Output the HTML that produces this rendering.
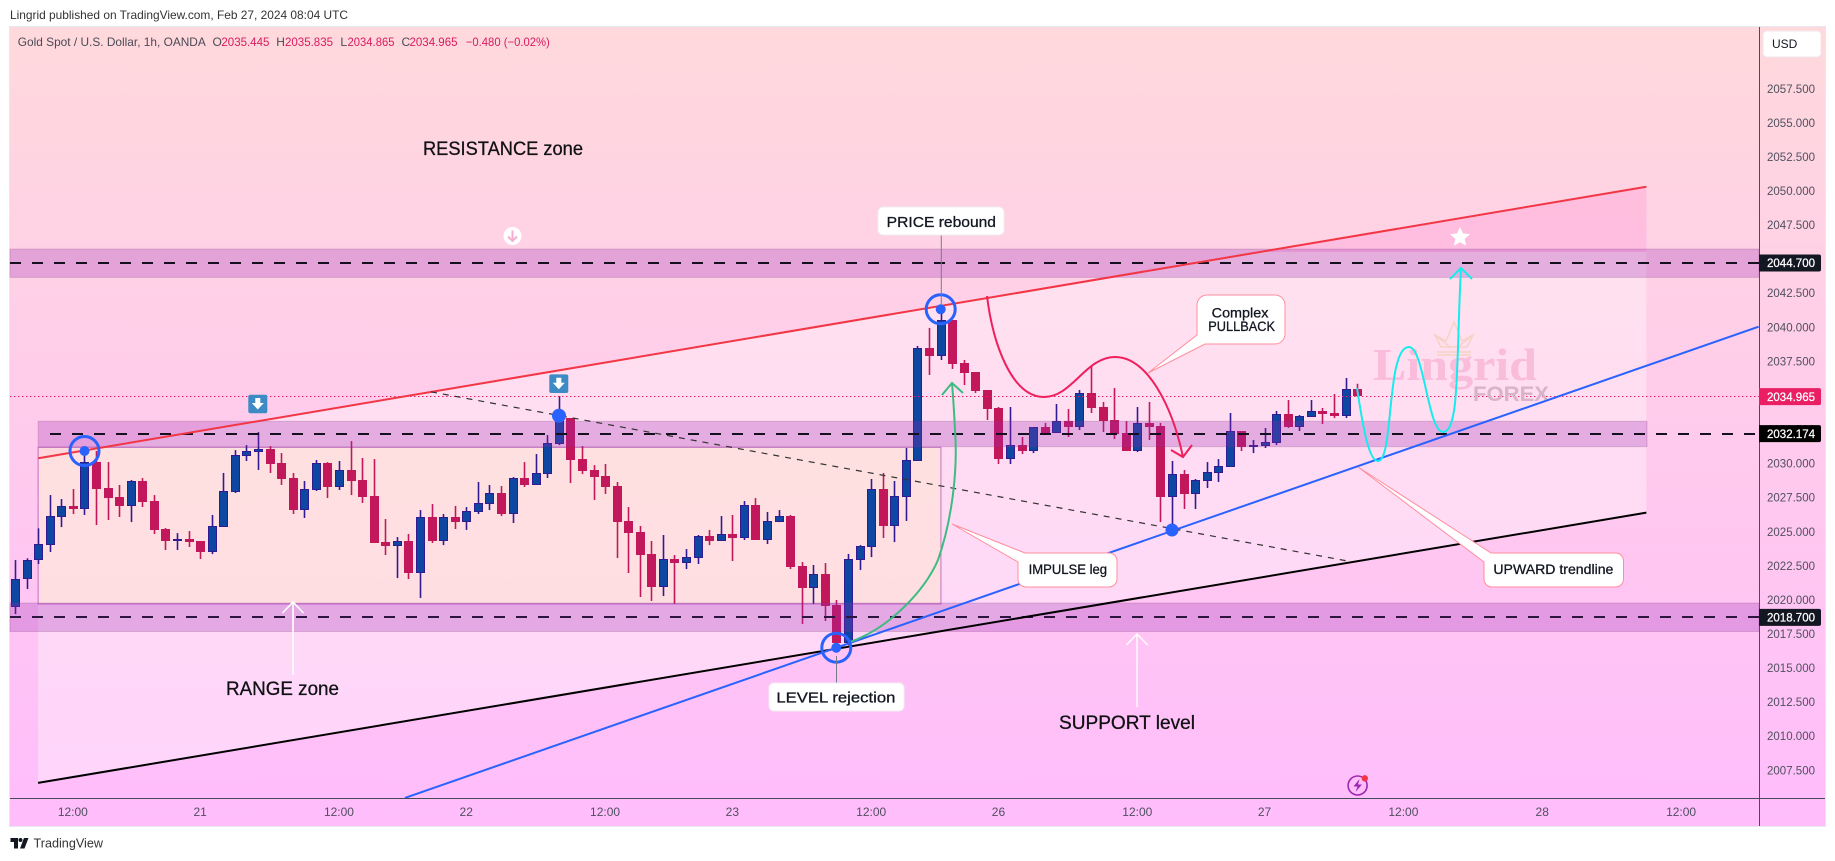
<!DOCTYPE html>
<html lang="en">
<head>
<meta charset="utf-8">
<title>Gold Spot / U.S. Dollar chart</title>
<style>
html,body{margin:0;padding:0;background:#fff;width:1835px;height:861px;overflow:hidden}
svg{display:block}
text{font-family:"Liberation Sans",sans-serif}
.heavy{stroke:#131722;stroke-width:.3px}
</style>
</head>
<body>
<svg id="chart" xmlns="http://www.w3.org/2000/svg" width="1835" height="861" viewBox="0 0 1835 861">
<defs>
<linearGradient id="paneGrad" x1="0" y1="0" x2="0" y2="1">
<stop offset="0" stop-color="#ffd9dc"/>
<stop offset="1" stop-color="#ffbdfc"/>
</linearGradient>
<clipPath id="aboveClip"><rect x="0" y="0" width="1835" height="252"/></clipPath>
<clipPath id="belowClip"><rect x="0" y="252" width="1835" height="609"/></clipPath>
<clipPath id="plotClip"><rect x="10" y="27" width="1749" height="771"/></clipPath>
</defs>

<text x="10" y="19" font-size="12" fill="#333" textLength="338" lengthAdjust="spacingAndGlyphs">Lingrid published on TradingView.com, Feb 27, 2024 08:04 UTC</text>

<rect x="9.5" y="26.5" width="1816" height="800" fill="url(#paneGrad)" stroke="#e6e8ef" stroke-width="1"/>

<g id="channelLayer" clip-path="url(#plotClip)"></g>
<g id="rangeLayer"></g>
<g id="candleLayer" clip-path="url(#plotClip)"></g>
<g id="bandLayer"></g>
<g id="levelLayer"></g>
<g id="priceLineLayer"></g>

<g>
<text x="1373" y="380" font-size="46" font-weight="700" fill="#fabcdb" style='font-family:"Liberation Serif",serif' textLength="164" lengthAdjust="spacingAndGlyphs">Lingrid</text>
<text x="1473" y="401" font-size="21" font-weight="700" fill="#d9b3c9" textLength="76" lengthAdjust="spacingAndGlyphs">FOREX</text>
<path d="M1435 335 L1441 347 H1467 L1473 335 L1462 341 L1454 322 L1446 341 Z M1435 335 L1450 347 M1473 335 L1458 347 M1437 352 H1471 M1437 355 H1471" fill="none" stroke="#f5d2c4" stroke-width="1.4"/>
</g>

<g id="trendLayer" clip-path="url(#plotClip)"></g>

<g fill="none" stroke="#fff" stroke-width="1.6">
<path d="M293 602 V675"/>
<path d="M282.5 613 L293 602 L303.5 613"/>
</g>
<g fill="none" stroke="#fff" stroke-width="1.4">
<path d="M1137 634 V707"/>
<path d="M1126.5 645 L1137 634 L1147.5 645"/>
</g>

<path d="M850 642 C890 628 925 590 938 560 C952 520 958 470 955 430 C954 410 953 395 952 383 M942 395 L952 383 L963 393" fill="none" stroke="#3dbb80" stroke-width="2"/>
<path d="M987 296 C993 345 1012 396 1043 397 C1072 398 1085 357 1115 357 C1147 357 1172 405 1183 457 M1171 450 L1183 457 L1192 445" fill="none" stroke="#ef1f5e" stroke-width="2"/>
<path d="M1357 388 C1362 420 1368 461 1378 461 C1394 461 1386 347 1409 347 C1424 347 1428 432 1443 432 C1460 432 1456 360 1461 268 M1450 279 L1461 268 L1472 279" fill="none" stroke="#16ecec" stroke-width="2"/>

<g>
<circle cx="84.5" cy="451" r="14.5" fill="none" stroke="#2962ff" stroke-width="3"/>
<circle cx="84.5" cy="451" r="5" fill="#2962ff"/>
</g>
<circle cx="559" cy="415.7" r="7" fill="#2962ff"/>
<g>
<circle cx="940.7" cy="309.3" r="14.5" fill="none" stroke="#2962ff" stroke-width="3"/>
<circle cx="940.7" cy="309.3" r="5" fill="#2962ff"/>
</g>
<g>
<circle cx="836.3" cy="647.7" r="14.5" fill="none" stroke="#2962ff" stroke-width="3"/>
<circle cx="836.3" cy="647.7" r="5" fill="#2962ff"/>
</g>
<circle cx="1172" cy="530" r="6.5" fill="#2962ff"/>

<line x1="941.3" y1="235" x2="941.3" y2="305" stroke="#787b86" stroke-width="1"/>
<g>
<rect x="878" y="207" width="126" height="28" rx="5" fill="#fff" stroke="#eee" stroke-width="1"/>
<text class="heavy" x="886.7" y="227" font-size="15" fill="#131722" textLength="109.3" lengthAdjust="spacingAndGlyphs">PRICE rebound</text>
</g>
<line x1="836.5" y1="656" x2="836.5" y2="683" stroke="#787b86" stroke-width="1"/>
<g>
<rect x="769" y="683" width="135" height="28" rx="5" fill="#fff" stroke="#f3eef3" stroke-width="1"/>
<text class="heavy" x="776.4" y="702.5" font-size="15" fill="#131722" textLength="119" lengthAdjust="spacingAndGlyphs">LEVEL rejection</text>
</g>
<g>
<path d="M1207 295 H1275 A10 10 0 0 1 1285 305 V334 A10 10 0 0 1 1275 344 H1205 L1148 373 L1197 335 V305 A10 10 0 0 1 1207 295 Z" fill="#fff" stroke="#ff8d9e" stroke-width="1"/>
<text class="heavy" x="1211.7" y="317.5" font-size="14" fill="#131722" textLength="56.7" lengthAdjust="spacingAndGlyphs">Complex</text>
<text class="heavy" x="1208.3" y="331" font-size="14" fill="#131722" textLength="66.7" lengthAdjust="spacingAndGlyphs">PULLBACK</text>
</g>
<g>
<path d="M1025 553 H1109 A8 8 0 0 1 1117 561 V579 A8 8 0 0 1 1109 587 H1026 A8 8 0 0 1 1018 579 V562 L952 524 Z" fill="#fff" stroke="#ff8d9e" stroke-width="1"/>
<text class="heavy" x="1028.6" y="574" font-size="14" fill="#131722" textLength="78.5" lengthAdjust="spacingAndGlyphs">IMPULSE leg</text>
</g>
<g>
<path d="M1491 553 H1615.5 A8 8 0 0 1 1623.5 561 V579 A8 8 0 0 1 1615.5 587 H1492 A8 8 0 0 1 1484 579 V562 L1358 467 Z" fill="#fff" stroke="#ff8d9e" stroke-width="1"/>
<text class="heavy" x="1493.4" y="574" font-size="14" fill="#131722" textLength="120" lengthAdjust="spacingAndGlyphs">UPWARD trendline</text>
</g>

<text class="heavy" x="423" y="155" font-size="19" fill="#111" textLength="160" lengthAdjust="spacingAndGlyphs">RESISTANCE zone</text>
<text class="heavy" x="226" y="695" font-size="19" fill="#111" textLength="113" lengthAdjust="spacingAndGlyphs">RANGE zone</text>
<text class="heavy" x="1059" y="729" font-size="19" fill="#111" textLength="136" lengthAdjust="spacingAndGlyphs">SUPPORT level</text>

<g>
<rect x="248.3" y="394.7" width="19" height="18.6" rx="2" fill="#3d8ac4"/>
<path d="M255.3 398 h5 v5 h3.5 l-6 6.5 l-6 -6.5 h3.5 z" fill="#fff"/>
</g>
<g>
<rect x="549.3" y="374.4" width="19" height="18.6" rx="2" fill="#3d8ac4"/>
<path d="M556.3 377.7 h5 v5 h3.5 l-6 6.5 l-6 -6.5 h3.5 z" fill="#fff"/>
</g>
<g>
<circle cx="512.5" cy="236" r="9" fill="#fff"/>
<path d="M512.5 230.5 V241 M508 236.5 L512.5 241 L517 236.5" fill="none" stroke="#f3aed0" stroke-width="2"/>
</g>
<path d="M1460 227 L1462.9 233.4 L1470 234.2 L1464.7 238.9 L1466.2 245.8 L1460 242.3 L1453.8 245.8 L1455.3 238.9 L1450 234.2 L1457.1 233.4 Z" fill="#fff"/>
<g>
<circle cx="1357.6" cy="785.5" r="9.5" fill="none" stroke="#9c27b0" stroke-width="1.6"/>
<path d="M1359.5 779 L1353.5 786.5 H1357.5 L1355.5 792 L1362 784.5 H1358 Z" fill="#9c27b0"/>
<circle cx="1364.8" cy="778.3" r="3.2" fill="#f23645"/>
</g>

<g font-size="12">
<text x="17.8" y="46" fill="#4a4a55" textLength="188" lengthAdjust="spacingAndGlyphs">Gold Spot / U.S. Dollar, 1h, OANDA</text>
<text x="212.5" y="46" fill="#4a4a55">O</text>
<text x="221.4" y="46" fill="#d81b60" textLength="48" lengthAdjust="spacingAndGlyphs">2035.445</text>
<text x="276.3" y="46" fill="#4a4a55">H</text>
<text x="285" y="46" fill="#d81b60" textLength="48" lengthAdjust="spacingAndGlyphs">2035.835</text>
<text x="340.4" y="46" fill="#4a4a55">L</text>
<text x="347.5" y="46" fill="#d81b60" textLength="47" lengthAdjust="spacingAndGlyphs">2034.865</text>
<text x="401.5" y="46" fill="#4a4a55">C</text>
<text x="409.5" y="46" fill="#d81b60" textLength="48" lengthAdjust="spacingAndGlyphs">2034.965</text>
<text x="465.8" y="46" fill="#d81b60" textLength="84" lengthAdjust="spacingAndGlyphs">−0.480 (−0.02%)</text>
</g>

<line x1="1759.5" y1="27" x2="1759.5" y2="826" stroke="#4a4a58" stroke-width="1"/>
<line x1="10" y1="798.5" x2="1825" y2="798.5" stroke="#4a4a58" stroke-width="1"/>

<g id="priceAxis"></g>
<g id="timeAxis"></g>
<g id="priceLabels"></g>

<g>
<rect x="1763" y="31" width="58" height="26" rx="4" fill="#fff" stroke="#f1e6ee" stroke-width="1"/>
<text x="1772" y="48" font-size="12" fill="#131722">USD</text>
</g>

<g>
<path d="M10.5 838 H18 V848.5 H14 V842 H10.5 Z M24 838 H28.5 L24.5 848.5 H20 Z" fill="#131722"/>
<circle cx="20.5" cy="840" r="2" fill="#131722"/>
<text x="33.5" y="847.5" font-size="13" fill="#333" textLength="69.5" lengthAdjust="spacingAndGlyphs">TradingView</text>
</g>
</svg>

<script>
const opens = [2019.48,2021.49,2022.88,2024.03,2026.08,2026.87,2026.67,2030.07,2028.19,2027.53,
2026.89,2028.70,2027.23,2025.18,2024.37,2024.44,2024.30,2023.49,2025.35,2027.92,
2030.53,2030.83,2031.05,2030.02,2028.92,2026.57,2028.04,2030.02,2028.26,2029.51,
2028.77,2027.60,2024.22,2023.93,2024.30,2021.95,2026.06,2024.30,2026.06,2025.69,
2026.43,2027.01,2027.82,2026.28,2028.92,2028.41,2029.21,2031.41,2033.32,2030.31,
2029.51,2029.07,2028.33,2025.77,2024.96,2023.34,2020.92,2022.98,2022.68,2023.05,
2024.66,2024.30,2024.81,2024.52,2026.94,2024.37,2025.69,2026.13,2022.46,2020.85,
2021.88,2019.60,2016.82,2022.90,2023.86,2028.11,2025.40,2027.53,2030.17,2038.46,
2037.87,2040.51,2037.36,2036.70,2035.38,2034.06,2030.31,2031.34,2030.90,2032.66,
2032.22,2033.10,2032.66,2035.16,2034.13,2033.18,2032.22,2030.90,2032.96,2032.74,
2027.53,2029.21,2027.75,2028.70,2029.29,2029.73,2032.37,2031.19,2031.27,2031.49,
2033.62,2032.66,2033.40,2033.84,2033.69,2033.47,2035.445];
const highs = [2022.90,2023.03,2025.23,2027.67,2027.38,2028.11,2031.22,2030.90,2030.09,2028.41,
2028.77,2028.92,2027.67,2025.25,2024.88,2025.03,2024.30,2026.21,2029.29,2030.97,
2031.34,2032.29,2031.27,2030.75,2029.29,2028.70,2030.24,2030.09,2030.17,2031.63,
2030.39,2030.31,2025.91,2024.59,2024.81,2026.57,2027.01,2026.28,2026.87,2026.79,
2028.63,2028.41,2028.33,2028.99,2030.09,2030.68,2032.07,2034.94,2033.32,2031.27,
2029.87,2029.95,2028.63,2026.79,2025.40,2024.30,2024.74,2023.27,2023.71,2024.74,
2025.11,2026.13,2026.21,2027.23,2027.45,2026.43,2026.57,2026.21,2022.76,2022.54,
2022.68,2019.97,2023.35,2024.00,2028.85,2029.29,2028.70,2031.12,2038.61,2039.93,
2041.25,2040.51,2037.58,2036.70,2035.38,2034.13,2034.13,2031.93,2032.66,2032.96,
2034.35,2033.98,2035.38,2037.14,2034.50,2035.52,2033.10,2034.13,2034.50,2032.96,
2030.17,2029.51,2028.85,2030.09,2030.31,2033.69,2032.37,2031.71,2032.59,2033.84,
2034.64,2033.54,2034.64,2034.06,2035.08,2036.26,2035.835];
const lows = [2018.94,2020.78,2022.61,2023.49,2025.32,2026.28,2026.21,2025.47,2025.84,2026.06,
2025.69,2026.79,2024.81,2023.64,2023.64,2023.86,2022.98,2023.34,2025.35,2027.82,
2030.17,2029.51,2029.29,2028.41,2026.28,2025.99,2027.97,2027.45,2028.04,2027.67,
2027.09,2024.15,2023.27,2021.58,2021.51,2020.12,2024.15,2024.00,2025.18,2025.11,
2026.28,2026.57,2026.13,2025.62,2028.26,2028.41,2028.92,2031.34,2028.55,2029.21,
2027.31,2027.75,2023.05,2021.95,2020.19,2019.90,2020.26,2019.68,2022.24,2022.61,
2024.00,2024.30,2022.83,2024.37,2024.37,2024.08,2025.69,2022.24,2018.21,2019.68,
2018.43,2016.30,2016.65,2022.17,2023.12,2024.52,2024.22,2025.77,2030.17,2036.48,
2037.58,2036.92,2035.74,2035.16,2033.18,2029.95,2029.95,2030.68,2030.75,2032.15,
2032.22,2031.93,2032.44,2033.69,2032.30,2031.78,2030.90,2030.83,2031.71,2025.69,
2025.11,2026.65,2026.65,2028.19,2028.63,2029.73,2030.90,2030.75,2031.12,2031.34,
2032.59,2032.37,2033.40,2032.88,2033.32,2033.32,2034.865];
const closes = [2021.49,2022.88,2024.08,2026.13,2026.87,2026.65,2030.07,2028.14,2027.48,2026.87,
2028.70,2027.16,2025.11,2024.30,2024.44,2024.22,2023.49,2025.40,2027.97,2030.61,
2030.90,2031.05,2029.95,2028.85,2026.57,2028.11,2030.02,2028.26,2029.51,2028.70,
2027.53,2024.15,2023.93,2024.30,2021.95,2026.06,2024.30,2026.06,2025.69,2026.50,
2027.09,2027.82,2026.28,2028.92,2028.41,2029.29,2031.49,2033.30,2030.24,2029.43,
2028.99,2028.26,2025.69,2024.88,2023.27,2020.92,2022.98,2022.68,2023.12,2024.66,
2024.30,2024.81,2024.52,2026.94,2024.37,2025.77,2026.13,2022.39,2020.85,2021.88,
2019.53,2016.82,2022.98,2023.93,2028.11,2025.40,2027.60,2030.24,2038.46,2037.87,
2040.51,2037.28,2036.62,2035.30,2033.98,2030.31,2031.34,2030.90,2032.66,2032.15,
2033.10,2032.66,2035.16,2034.06,2033.10,2032.15,2030.90,2032.96,2032.66,2027.53,
2029.21,2027.75,2028.77,2029.36,2029.80,2032.37,2031.19,2031.34,2031.56,2033.62,
2032.66,2033.47,2033.84,2033.62,2033.47,2035.445,2034.965];

const priceTicks = [2057.5,2055,2052.5,2050,2047.5,2045,2042.5,2040,2037.5,2035,2032.5,2030,2027.5,2025,2022.5,2020,2017.5,2015,2012.5,2010,2007.5];
const timeTickBars = [5,16,28,39,51,62,74,85,97,108,120,132,144];
const timeTickLabels = ['12:00','21','12:00','22','12:00','23','12:00','26','12:00','27','12:00','28','12:00'];
const keyLevels = [2044.7,2032.174,2018.7];

const resistanceBand = [2045.72,2043.64];
const midBand = [2033.08,2031.22];
const supportBand = [2019.75,2017.66];
const rangeBars = [2,80.03];
const rangePrices = [2031.17,2019.68];

const redTrendBars = [2.01,141];
const redTrendPrices = [2030.37,2050.29];
const blackTrendBars = [1.99,141];
const blackTrendPrices = [2006.55,2026.38];
const blueTrendBars = [33.7,150.7];
const blueTrendPrices = [2005.45,2040.02];
const thinTrendBars = [35.96,115.07];
const thinTrendPrices = [2035.24,2022.85];

const NS = 'http://www.w3.org/2000/svg';
function X(i){ return 15 + 11.57 * i; }
function Y(p){ return 190.7 + (2050 - p) * 13.63; }
function mk(tag, parent, attrs){
  const el = document.createElementNS(NS, tag);
  for (const k in attrs) el.setAttribute(k, attrs[k]);
  parent.appendChild(el);
  return el;
}
const channelLayer = document.getElementById('channelLayer');
const rangeLayer = document.getElementById('rangeLayer');
const candleLayer = document.getElementById('candleLayer');
const bandLayer = document.getElementById('bandLayer');
const levelLayer = document.getElementById('levelLayer');
const priceLineLayer = document.getElementById('priceLineLayer');
const trendLayer = document.getElementById('trendLayer');
const priceAxis = document.getElementById('priceAxis');
const timeAxis = document.getElementById('timeAxis');
const priceLabels = document.getElementById('priceLabels');

/* channel fill */
const channelPoints = [
  X(redTrendBars[0]) + ',' + Y(redTrendPrices[0]),
  X(redTrendBars[1]) + ',' + Y(redTrendPrices[1]),
  X(blackTrendBars[1]) + ',' + Y(blackTrendPrices[1]),
  X(blackTrendBars[0]) + ',' + Y(blackTrendPrices[0])
].join(' ');
const channelUpper = mk('polygon', channelLayer, {points: channelPoints, fill: 'rgba(255,108,204,.2)', 'clip-path': 'url(#aboveClip)'});


const channelLower = mk('polygon', channelLayer, {points: channelPoints, fill: 'rgba(255,255,255,.35)', 'clip-path': 'url(#belowClip)'});



/* range rectangle */
const rangeRect = mk('rect', rangeLayer, {
  x: X(rangeBars[0]), y: Y(rangePrices[0]),
  width: X(rangeBars[1]) - X(rangeBars[0]), height: Y(rangePrices[1]) - Y(rangePrices[0]),
  fill: 'rgba(255,228,206,.5)', stroke: 'rgba(156,39,176,.6)', 'stroke-width': 1
});



/* candles */
for (let i = 0; i < opens.length; i++) {
  const up = closes[i] >= opens[i];
  const cx = Math.round(X(i));
  const wickColor = up ? '#311b92' : '#c2185b';
  const wick = mk('line', candleLayer, {x1: cx + 0.5, x2: cx + 0.5, y1: Y(highs[i]), y2: Y(lows[i]), stroke: wickColor, 'stroke-width': 1.6});
  
  
  const top = Math.round(Y(Math.max(opens[i], closes[i])));
  const bot = Math.round(Y(Math.min(opens[i], closes[i])));
  const body = mk('rect', candleLayer, {x: cx - 3.5, y: top + 0.5, width: 8, height: Math.max(bot - top - 1, 1), fill: up ? '#0d47a1' : '#c2185b', stroke: wickColor, 'stroke-width': 1});
  
  
}

/* bands */
const bandDefs = [
  {name: 'resistance-band', range: resistanceBand, x0: 10, x1: 1759},
  {name: 'middle-band', range: midBand, x0: X(rangeBars[0]), x1: 1647},
  {name: 'support-band', range: supportBand, x0: 10, x1: 1759}
];
bandDefs.forEach(function (b) {
  const r = mk('rect', bandLayer, {x: b.x0, y: Y(b.range[0]), width: b.x1 - b.x0, height: Y(b.range[1]) - Y(b.range[0]), fill: 'rgba(156,39,176,.27)', stroke: 'rgba(120,60,120,.22)', 'stroke-width': 1});
  
  
});

/* dashed key levels */
const levelStarts = [10, 50, 10];
keyLevels.forEach(function (p, k) {
  const yy = Math.round(Y(p));
  const l = mk('line', levelLayer, {x1: levelStarts[k], x2: 1759, y1: yy, y2: yy, stroke: k === 2 ? '#2d1540' : '#141020', 'stroke-width': 2, 'stroke-dasharray': '11 11'});
  
  
});

/* last price line */
const lastClose = closes[closes.length - 1];
const lastY = Math.round(Y(lastClose)) + 0.5;
const lastLine = mk('line', priceLineLayer, {x1: 10, x2: 1759, y1: lastY, y2: lastY, stroke: '#e91e63', 'stroke-width': 1, 'stroke-dasharray': '1.5 2.5'});



/* trendlines */
const trendDefs = [
  {name: 'red-resistance-trendline', bars: redTrendBars, prices: redTrendPrices, color: '#f23645', w: 2, dash: ''},
  {name: 'black-channel-trendline', bars: blackTrendBars, prices: blackTrendPrices, color: '#000', w: 2, dash: ''},
  {name: 'blue-upward-trendline', bars: blueTrendBars, prices: blueTrendPrices, color: '#2962ff', w: 2, dash: ''},
  {name: 'thin-dashed-trendline', bars: thinTrendBars, prices: thinTrendPrices, color: '#333', w: 1.2, dash: '6 6'}
];
trendDefs.forEach(function (t) {
  const l = mk('line', trendLayer, {x1: X(t.bars[0]), y1: Y(t.prices[0]), x2: X(t.bars[1]), y2: Y(t.prices[1]), stroke: t.color, 'stroke-width': t.w});
  if (t.dash) l.setAttribute('stroke-dasharray', t.dash);
  
  
});

/* price axis ticks */
priceTicks.forEach(function (p) {
  const t = mk('text', priceAxis, {x: 1767, y: Y(p) + 4.3, 'font-size': 12, fill: '#50505f', textLength: 48, lengthAdjust: 'spacingAndGlyphs'});
  t.textContent = p.toFixed(3);
  
  
});

/* time axis ticks */
timeTickBars.forEach(function (b, k) {
  const t = mk('text', timeAxis, {x: X(b), y: 816, 'font-size': 12, fill: '#50505f', 'text-anchor': 'middle'});
  t.textContent = timeTickLabels[k];
  
  
});

/* price tags */
const tagValues = keyLevels.concat([lastClose]);
const tagColors = ['#131722', '#000', '#131722', '#e91e63'];
tagValues.forEach(function (p, k) {
  const yc = Y(p) + (k === 3 ? 1 : 0);
  const box = mk('path', priceLabels, {d: 'M1759 ' + (yc - 8.5) + ' H1819 a2 2 0 0 1 2 2 V' + (yc + 6.5) + ' a2 2 0 0 1 -2 2 H1759 Z', fill: tagColors[k]});
  
  
  const t = mk('text', priceLabels, {x: 1767, y: yc + 4.3, 'font-size': 12, fill: '#fff', stroke: '#fff', 'stroke-width': 0.25, textLength: 48, lengthAdjust: 'spacingAndGlyphs'});
  t.textContent = p.toFixed(3);
  
  
});
</script>
</body>
</html>
